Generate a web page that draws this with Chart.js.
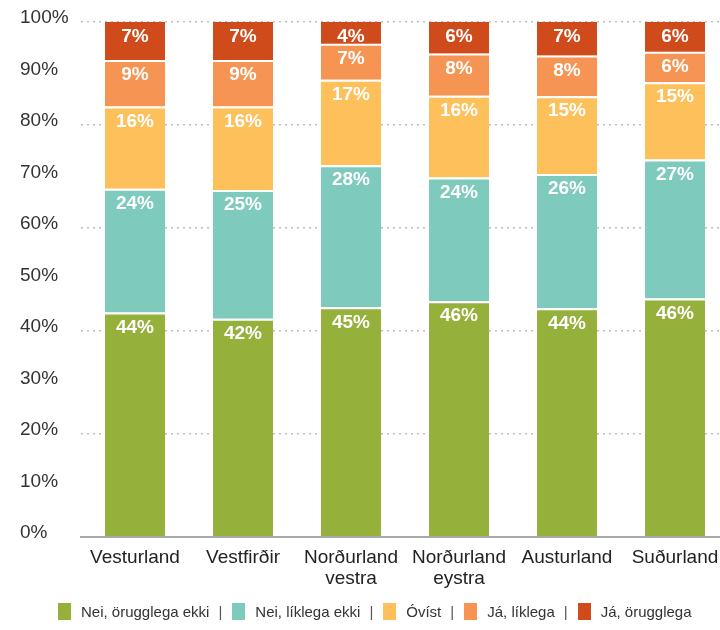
<!DOCTYPE html>
<html>
<head>
<meta charset="utf-8">
<script src="https://cdn.jsdelivr.net/npm/chart.js@4/dist/chart.umd.min.js"></script>
<style>
  html, body { margin: 0; padding: 0; background: #fff; overflow: hidden; }
  #wrap { position: relative; width: 720px; height: 630px; overflow: hidden; }
  #chart { position: absolute; left: 0; top: 0; }
  #legend {
    position: absolute; left: 58px; top: 603px;
    font-family: "Liberation Sans", Arial, sans-serif; font-size: 15px; color: #333;
    white-space: nowrap; display: flex; align-items: center;
  }
  #legend .sw { display: inline-block; width: 13px; height: 17px; margin-right: 10px; }
  #legend .sep { color: #555; margin: 0 10px 0 9px; }
</style>
</head>
<body>
<div id="wrap">
  <canvas id="chart" width="730" height="630"></canvas>
  <div id="legend"></div>
</div>
<script>
const regions = ['Vesturland', 'Vestfirðir', ['Norðurland', 'vestra'], ['Norðurland', 'eystra'], 'Austurland', 'Suðurland'];

const seriesNames = ['Nei, örugglega ekki', 'Nei, líklega ekki', 'Óvíst', 'Já, líklega', 'Já, örugglega'];
const seriesColors = ['#96B03C', '#7ECBBD', '#FDC05B', '#F69453', '#CF4B1B'];

// shares in % (labels are rounded)
const neiOrugglega = [43.6, 42.4, 44.6, 45.8, 44.4, 46.3];
const neiLiklega   = [24.0, 25.0, 27.6, 24.0, 26.1, 27.0];
const ovist        = [16.0, 16.2, 16.6, 15.9, 15.1, 15.0];
const jaLiklega    = [9.0, 9.0, 7.0, 8.2, 7.9, 5.9];
const jaOrugglega  = [7.4, 7.4, 4.2, 6.1, 6.5, 5.8];

const yTicks = [0, 10, 20, 30, 40, 50, 60, 70, 80, 90, 100];

const seriesData = [neiOrugglega, neiLiklega, ovist, jaLiklega, jaOrugglega];

const FONT = '"Liberation Sans", Arial, sans-serif';

// white % labels near the top of each segment
const segmentLabels = {
  id: 'segmentLabels',
  afterDatasetsDraw(chart) {
    const ctx = chart.ctx;
    ctx.save();
    ctx.font = 'bold 19px ' + FONT;
    ctx.fillStyle = '#fff';
    ctx.textAlign = 'center';
    ctx.textBaseline = 'middle';
    chart.data.datasets.forEach((ds, i) => {
      chart.getDatasetMeta(i).data.forEach((bar, j) => {
        ctx.fillText(Math.round(ds.data[j]) + '%', bar.x, bar.y + 15);
      });
    });
    ctx.restore();
  }
};

new Chart(document.getElementById('chart').getContext('2d'), {
  type: 'bar',
  data: {
    labels: regions,
    datasets: seriesNames.map((name, i) => ({
      label: name,
      data: seriesData[i],
      backgroundColor: seriesColors[i],
      borderColor: '#fff',
      borderWidth: { top: i === seriesNames.length - 1 ? 0 : 2, left: 0, right: 0, bottom: 0 },
      borderSkipped: false,
      barPercentage: 60 / 108,
      categoryPercentage: 1
    }))
  },
  options: {
    responsive: false,
    animation: false,
    devicePixelRatio: 1,
    layout: { padding: { left: 20, top: 22, right: 1, bottom: 0 } },
    plugins: {
      legend: { display: false },
      tooltip: { enabled: false }
    },
    scales: {
      x: {
        stacked: true,
        grid: { display: false },
        border: { display: true, color: '#A8A8B0', width: 2 },
        ticks: { color: '#222', font: { family: FONT, size: 19, lineHeight: 1.1 }, padding: 2, maxRotation: 0, autoSkip: false },
        afterFit: s => { s.height = 93; }
      },
      y: {
        stacked: true,
        min: 0,
        max: 100,
        afterBuildTicks: s => { s.ticks = yTicks.map(v => ({ value: v })); },
        grid: {
          drawTicks: false,
          color: c => (c.tick && c.tick.value % 20 === 0 && c.tick.value !== 0) ? '#BDBDBD' : 'rgba(0,0,0,0)',
          lineWidth: 1.5
        },
        border: { display: false, dash: [2, 4] },
        ticks: {
          color: '#333',
          font: { family: FONT, size: 19 },
          crossAlign: 'far',
          labelOffset: -4,
          callback: v => v + '%'
        },
        afterFit: s => { s.width = 61; }
      }
    }
  },
  plugins: [segmentLabels]
});

// legend with | separators
const legend = document.getElementById('legend');
seriesNames.forEach((name, i) => {
  const sw = document.createElement('span');
  sw.className = 'sw';
  sw.style.background = seriesColors[i];
  legend.appendChild(sw);
  const txt = document.createElement('span');
  txt.textContent = name;
  legend.appendChild(txt);
  if (i < seriesNames.length - 1) {
    const sep = document.createElement('span');
    sep.className = 'sep';
    sep.textContent = '|';
    legend.appendChild(sep);
  }
});
</script>
</body>
</html>
